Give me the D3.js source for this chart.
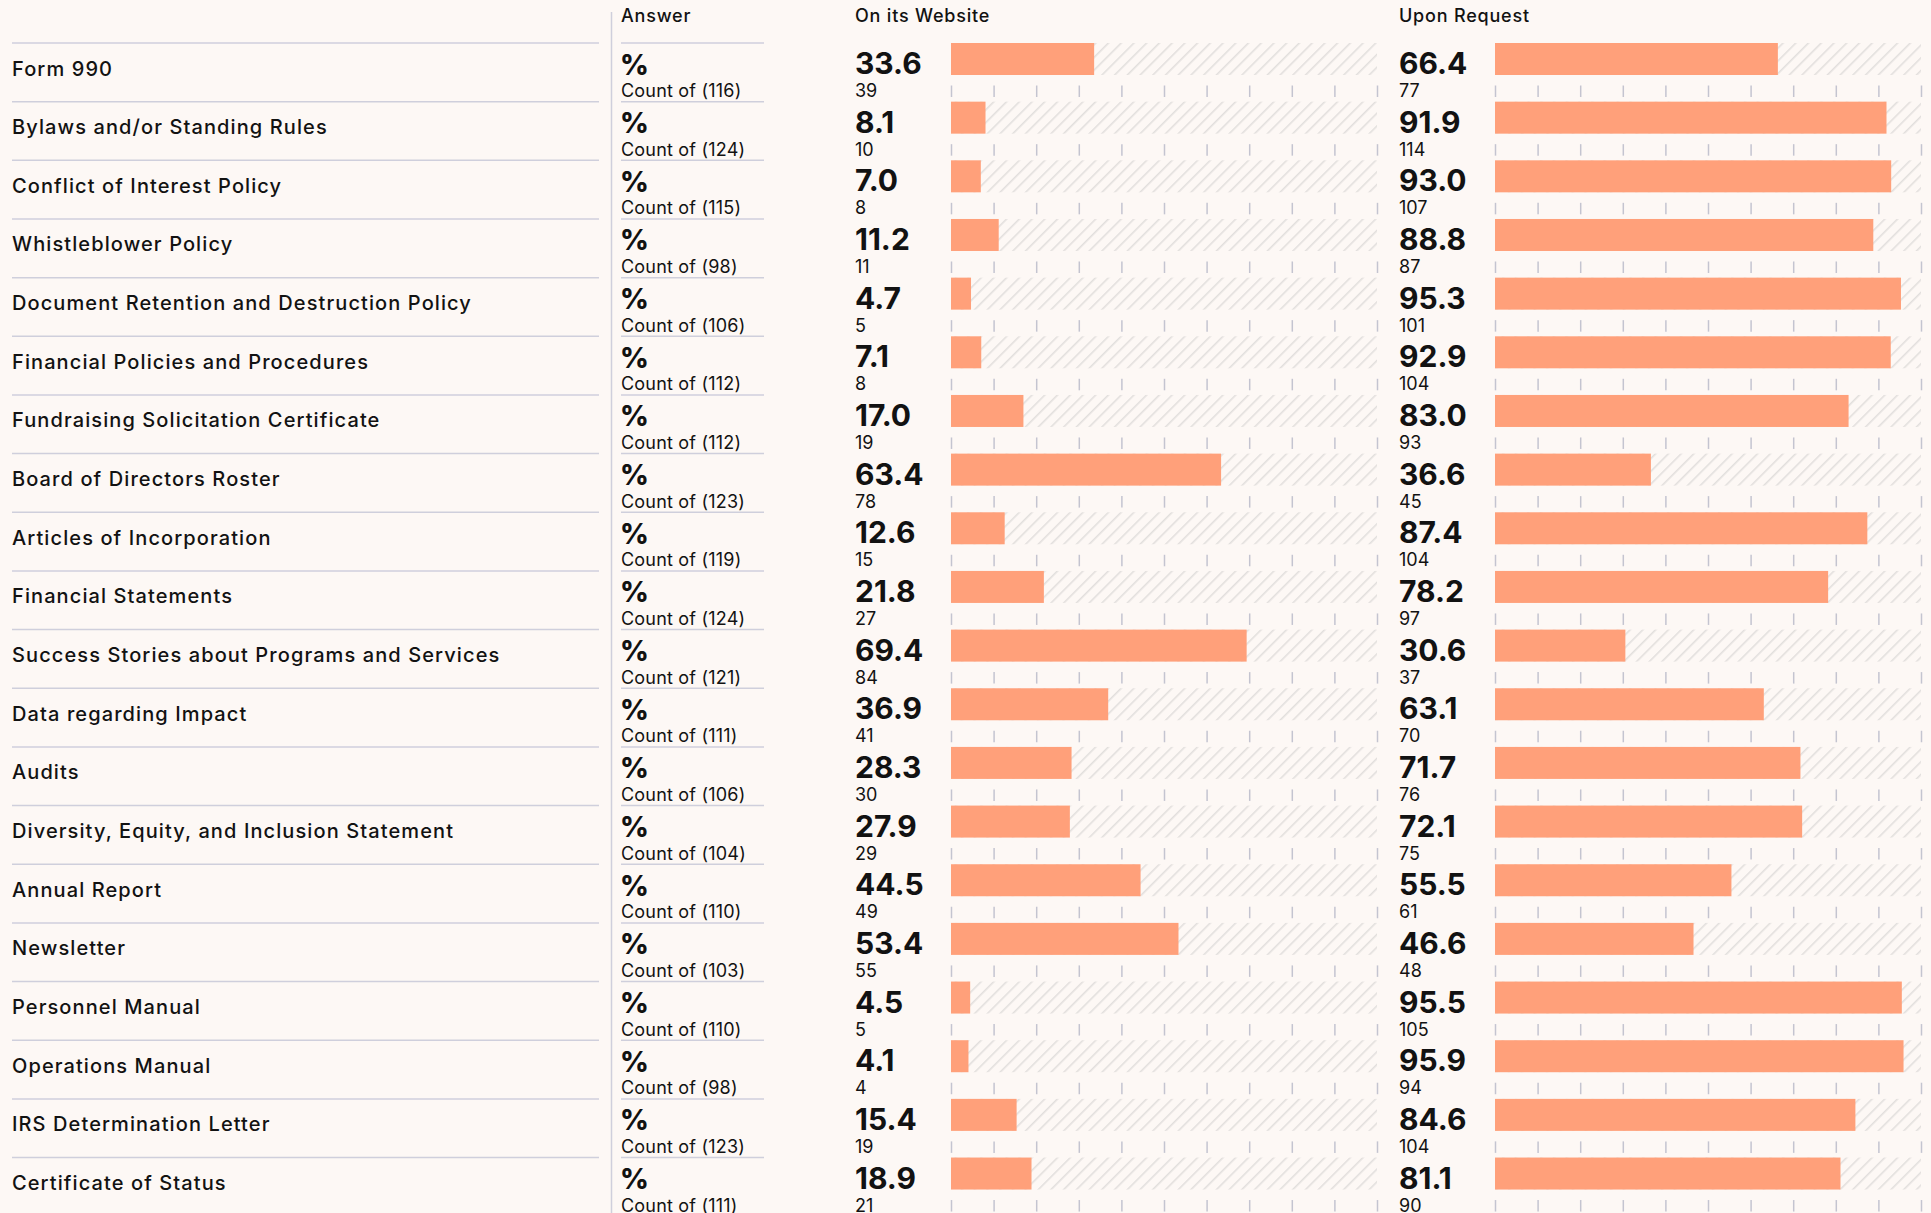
<!DOCTYPE html>
<html>
<head>
<meta charset="utf-8">
<script src="https://cdn.jsdelivr.net/npm/d3@7"></script>
<style>
  html, body { margin: 0; padding: 0; background: #fdf8f5; }
  svg text { font-family: Inter, "Noto Sans", sans-serif; fill: #121212; }
</style>
</head>
<body>
<div id="chart"></div>
<script>
var categories = [
  "Form 990",
  "Bylaws and/or Standing Rules",
  "Conflict of Interest Policy",
  "Whistleblower Policy",
  "Document Retention and Destruction Policy",
  "Financial Policies and Procedures",
  "Fundraising Solicitation Certificate",
  "Board of Directors Roster",
  "Articles of Incorporation",
  "Financial Statements",
  "Success Stories about Programs and Services",
  "Data regarding Impact",
  "Audits",
  "Diversity, Equity, and Inclusion Statement",
  "Annual Report",
  "Newsletter",
  "Personnel Manual",
  "Operations Manual",
  "IRS Determination Letter",
  "Certificate of Status"
];
var totals = [116, 124, 115, 98, 106, 112, 112, 123, 119, 124, 121, 111, 106, 104, 110, 103, 110, 98, 123, 111];
var websitePct = [33.6, 8.1, 7.0, 11.2, 4.7, 7.1, 17.0, 63.4, 12.6, 21.8, 69.4, 36.9, 28.3, 27.9, 44.5, 53.4, 4.5, 4.1, 15.4, 18.9];
var websiteCount = [39, 10, 8, 11, 5, 8, 19, 78, 15, 27, 84, 41, 30, 29, 49, 55, 5, 4, 19, 21];
var requestPct = [66.4, 91.9, 93.0, 88.8, 95.3, 92.9, 83.0, 36.6, 87.4, 78.2, 30.6, 63.1, 71.7, 72.1, 55.5, 46.6, 95.5, 95.9, 84.6, 81.1];
var requestCount = [77, 114, 107, 87, 101, 104, 93, 45, 104, 97, 37, 70, 76, 75, 61, 48, 105, 94, 104, 90];
var headers = ["Answer", "On its Website", "Upon Request"];

var width = 1931, height = 1213,
    barH = 32,
    lineColor = "#cfcfdc",
    barColor = "#ffa07a";

var rows = categories.map(function(c, i) {
  return {
    name: c, total: totals[i],
    web: websitePct[i], webN: websiteCount[i],
    req: requestPct[i], reqN: requestCount[i]
  };
});

var y = d3.scaleBand().domain(categories).range([43, 43 + categories.length * 58.66]);
var xWeb = d3.scaleLinear().domain([0, 100]).range([951, 1377]);
var xReq = d3.scaleLinear().domain([0, 100]).range([1495, 1921]);

var svg = d3.select("#chart").append("svg")
  .attr("width", width)
  .attr("height", height)
  .style("display", "block");

svg.append("rect").attr("width", width).attr("height", height).attr("fill", "#fdf8f5");

// diagonal hatch for the 0-100 track
var pat = svg.append("defs").append("pattern")
  .attr("id", "hatch")
  .attr("patternUnits", "userSpaceOnUse")
  .attr("width", 9).attr("height", 9)
  .attr("patternTransform", "rotate(45)");
pat.append("line")
  .attr("x1", 0).attr("y1", 0).attr("x2", 0).attr("y2", 9)
  .attr("stroke", "#e2dfdd").attr("stroke-width", 3.2);

// headers
var hx = [621, 855, 1399];
svg.selectAll(".hdr").data(headers).enter().append("text")
  .attr("class", "hdr")
  .attr("x", function(d, i) { return hx[i]; })
  .attr("y", 22)
  .attr("font-size", 18).attr("font-weight", 500)
  .attr("letter-spacing", 0.8)
  .text(function(d) { return d; });

// vertical separator
svg.append("line")
  .attr("x1", 611.5).attr("x2", 611.5).attr("y1", 12).attr("y2", height)
  .attr("stroke", lineColor).attr("stroke-width", 1.5);

var row = svg.selectAll(".row").data(rows).enter().append("g")
  .attr("class", "row")
  .attr("transform", function(d) { return "translate(0," + y(d.name) + ")"; });

row.append("line").attr("x1", 12).attr("x2", 599).attr("y1", 0).attr("y2", 0)
  .attr("stroke", lineColor).attr("stroke-width", 1.5);
row.append("line").attr("x1", 621).attr("x2", 764).attr("y1", 0).attr("y2", 0)
  .attr("stroke", lineColor).attr("stroke-width", 1.5);

row.append("text").attr("x", 12).attr("y", 32.5)
  .attr("font-size", 20).attr("font-weight", 500)
  .attr("letter-spacing", 1.1)
  .text(function(d) { return d.name; });

row.append("text").attr("x", 620).attr("y", 31.5)
  .attr("font-size", 28).attr("font-weight", 800)
  .text("%");
row.append("text").attr("x", 621).attr("y", 54)
  .attr("font-size", 18).attr("font-weight", 400)
  .attr("letter-spacing", 0.2)
  .text(function(d) { return "Count of (" + d.total + ")"; });

function drawSide(x, pctKey, nKey, labelX) {
  row.append("rect")
    .attr("x", x(0)).attr("y", 0)
    .attr("width", x(100) - x(0)).attr("height", barH)
    .attr("fill", "url(#hatch)");
  row.append("rect")
    .attr("x", x(0)).attr("y", 0)
    .attr("width", function(d) { return x(d[pctKey]) - x(0); })
    .attr("height", barH)
    .attr("fill", barColor);
  row.append("text").attr("x", labelX).attr("y", 31)
    .attr("font-size", 30).attr("font-weight", 700)
    .text(function(d) { return d[pctKey].toFixed(1); });
  row.append("text").attr("x", labelX).attr("y", 54)
    .attr("font-size", 18).attr("font-weight", 400)
    .text(function(d) { return d[nKey]; });
  row.append("g")
    .attr("class", "ticks")
    .attr("transform", "translate(0," + (barH + 10.5) + ")")
    .call(d3.axisBottom(x).ticks(10).tickSize(11.5).tickFormat(""))
    .call(function(g) { g.select(".domain").remove(); })
    .call(function(g) { g.selectAll("line").attr("stroke", "#c4c4d0").attr("stroke-width", 1.5); });
}

drawSide(xWeb, "web", "webN", 855);
drawSide(xReq, "req", "reqN", 1399);
</script>
</body>
</html>
